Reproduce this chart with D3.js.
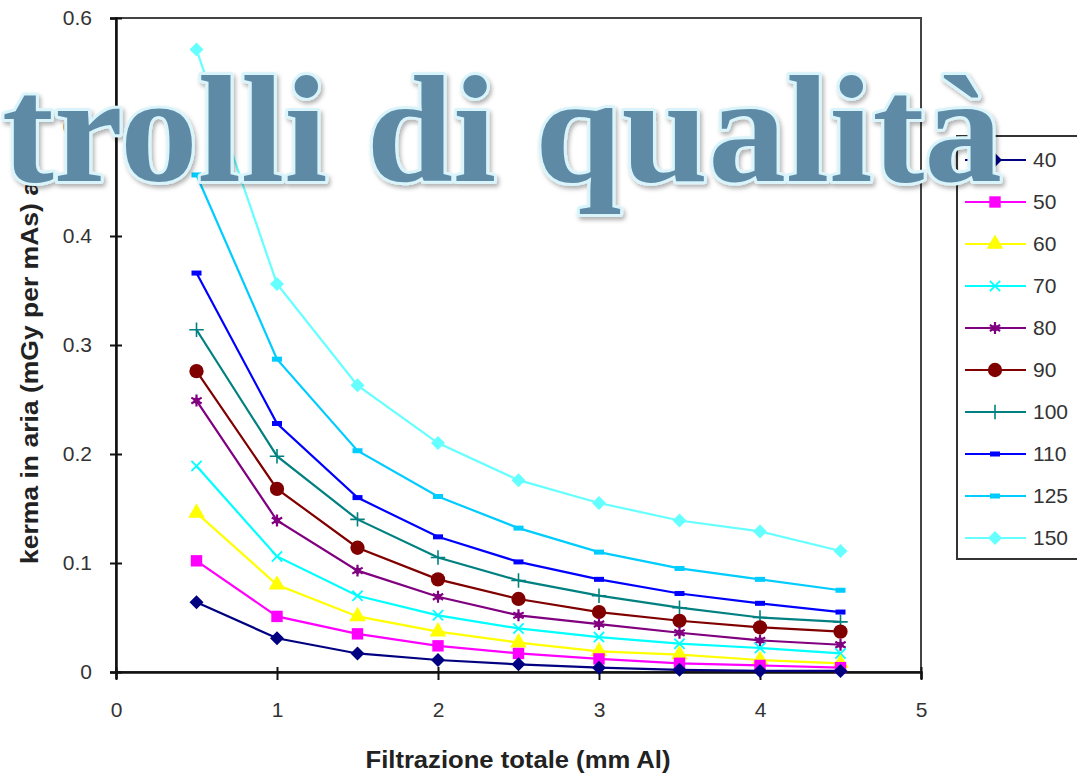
<!DOCTYPE html>
<html>
<head>
<meta charset="utf-8">
<script src="https://cdn.jsdelivr.net/npm/d3@7"></script>
<style>
  html, body { margin: 0; padding: 0; background: #fff; overflow: hidden; }
  svg { display: block; font-family: Arial, "Liberation Sans", sans-serif; }
</style>
</head>
<body>
<svg id="chart" width="1077" height="773"></svg>
<script>
// ---------- data ----------
const filtration = [0.5, 1, 1.5, 2, 2.5, 3, 3.5, 4, 4.5];
const seriesNames = ["40", "50", "60", "70", "80", "90", "100", "110", "125", "150"];
const kv40  = [0.064, 0.031, 0.017, 0.011, 0.007, 0.004, 0.002, 0.001, 0.001];
const kv50  = [0.102, 0.051, 0.035, 0.024, 0.017, 0.012, 0.008, 0.006, 0.004];
const kv60  = [0.146, 0.080, 0.051, 0.037, 0.027, 0.019, 0.016, 0.011, 0.008];
const kv70  = [0.189, 0.106, 0.070, 0.052, 0.040, 0.032, 0.026, 0.022, 0.017];
const kv80  = [0.249, 0.139, 0.093, 0.069, 0.052, 0.044, 0.036, 0.029, 0.025];
const kv90  = [0.276, 0.168, 0.114, 0.085, 0.067, 0.055, 0.047, 0.041, 0.037];
const kv100 = [0.314, 0.198, 0.140, 0.105, 0.084, 0.070, 0.059, 0.050, 0.046];
const kv110 = [0.366, 0.228, 0.160, 0.124, 0.101, 0.085, 0.072, 0.063, 0.055];
const kv125 = [0.456, 0.287, 0.203, 0.161, 0.132, 0.110, 0.095, 0.085, 0.075];
const kv150 = [0.571, 0.356, 0.263, 0.210, 0.176, 0.155, 0.139, 0.129, 0.111];
const seriesValues = [kv40, kv50, kv60, kv70, kv80, kv90, kv100, kv110, kv125, kv150];
const seriesColors = ["#000080", "#ff00ff", "#ffff00", "#00ffff", "#800080", "#800000", "#008080", "#0000ff", "#00ccff", "#66ffff"];
const seriesMarkers = ["diamond", "square", "triangle", "times", "asterisk", "circle", "plus", "dash", "dash", "diamond"];
const xTicks = [0, 1, 2, 3, 4, 5];
const xTickLabels = ["0", "1", "2", "3", "4", "5"];
const yTicks = [0, 0.1, 0.2, 0.3, 0.4, 0.5, 0.6];
const yTickLabels = ["0", "0.1", "0.2", "0.3", "0.4", "0.5", "0.6"];
const xTitle = "Filtrazione totale (mm Al)";
const yTitle = "kerma in aria (mGy per mAs) a 1 m";
const overlayTitle = "trolli di qualità";

// ---------- layout ----------
const svg = d3.select("#chart");
const X0 = 116, X1 = 921, Y0 = 672, Y1 = 18;
const x = d3.scaleLinear().domain([0, 5]).range([X0, X1]);
const y = d3.scaleLinear().domain([0, 0.6]).range([Y0, Y1]);

// plot frame (top/right)
svg.append("rect")
  .attr("x", X0).attr("y", Y1).attr("width", X1 - X0).attr("height", Y0 - Y1)
  .attr("fill", "#fff").attr("stroke", "#444").attr("stroke-width", 2);

// axes
const yAxis = svg.append("g").attr("transform", `translate(${X0},0)`)
  .call(d3.axisLeft(y).tickValues(yTicks).tickFormat((d, i) => yTickLabels[i]).tickSize(6).tickPadding(18));
yAxis.selectAll(".tick line").attr("x1", 6).attr("x2", -6).attr("stroke", "#111").attr("stroke-width", 2);
yAxis.select(".domain").attr("stroke", "#111").attr("stroke-width", 2.5);
yAxis.selectAll("text").attr("font-size", 21).attr("fill", "#333").attr("font-family", "Arial, 'Liberation Sans', sans-serif");

const xAxis = svg.append("g").attr("transform", `translate(0,${Y0})`)
  .call(d3.axisBottom(x).tickValues(xTicks).tickFormat((d, i) => xTickLabels[i]).tickSize(7).tickPadding(23));
xAxis.selectAll(".tick line").attr("y1", -5).attr("y2", 8).attr("stroke", "#111").attr("stroke-width", 2);
xAxis.select(".domain").attr("stroke", "#111").attr("stroke-width", 2.5);
xAxis.selectAll("text").attr("font-size", 21).attr("fill", "#333").attr("font-family", "Arial, 'Liberation Sans', sans-serif");

// axis titles
svg.append("text")
  .attr("x", 518).attr("y", 768).attr("text-anchor", "middle")
  .attr("font-size", 23).attr("font-weight", "bold").attr("fill", "#222")
  .attr("textLength", 305).attr("lengthAdjust", "spacingAndGlyphs")
  .text(xTitle);
svg.append("text")
  .attr("transform", "translate(38,346) rotate(-90)").attr("text-anchor", "middle")
  .attr("font-size", 24).attr("font-weight", "bold").attr("fill", "#222")
  .attr("textLength", 436).attr("lengthAdjust", "spacingAndGlyphs")
  .text(yTitle);

// marker drawing
const diamondPath = "M0,-7L7,0L0,7L-7,0Z";
function drawMarker(g, type, color) {
  if (type === "diamond") {
    g.append("path").attr("d", diamondPath).attr("fill", color);
  } else if (type === "square") {
    g.append("path").attr("d", d3.symbol(d3.symbolSquare, 130)()).attr("fill", color);
  } else if (type === "triangle") {
    g.append("path").attr("d", d3.symbol(d3.symbolTriangle, 120)()).attr("fill", color);
  } else if (type === "times") {
    g.append("path").attr("d", d3.symbol(d3.symbolTimes, 70)()).attr("fill", "none").attr("stroke", color).attr("stroke-width", 1.8);
  } else if (type === "asterisk") {
    g.append("path").attr("d", d3.symbol(d3.symbolAsterisk, 100)()).attr("fill", "none").attr("stroke", color).attr("stroke-width", 2.2);
    g.append("path").attr("d", d3.symbol(d3.symbolCircle, 30)()).attr("fill", color);
  } else if (type === "circle") {
    g.append("path").attr("d", d3.symbol(d3.symbolCircle, 160)()).attr("fill", color);
  } else if (type === "plus") {
    g.append("path").attr("d", d3.symbol(d3.symbolPlus, 70)()).attr("fill", "none").attr("stroke", color).attr("stroke-width", 1.6);
  } else if (type === "dash") {
    g.append("rect").attr("x", -5).attr("y", -2.5).attr("width", 10).attr("height", 5).attr("fill", color);
  }
}

const line = d3.line().x((d, i) => x(filtration[i])).y(d => y(d));

// series (draw from highest to lowest so low series are on top like the reference)
const plot = svg.append("g");
for (let s = seriesNames.length - 1; s >= 0; s--) {
  const vals = seriesValues[s];
  const g = plot.append("g");
  g.append("path").attr("d", line(vals)).attr("fill", "none")
    .attr("stroke", seriesColors[s]).attr("stroke-width", 2.2);
  g.selectAll("g.m").data(vals).join("g").attr("class", "m")
    .attr("transform", (d, i) => `translate(${x(filtration[i])},${y(d)})`)
    .each(function () { drawMarker(d3.select(this), seriesMarkers[s], seriesColors[s]); });
}

// legend
const legend = svg.append("g");
legend.append("rect").attr("x", 957).attr("y", 136).attr("width", 140).attr("height", 423)
  .attr("fill", "#fff").attr("stroke", "#333").attr("stroke-width", 2);
const legendY = d3.scaleLinear().domain([0, seriesNames.length - 1]).range([160, 538]);
seriesNames.forEach((name, i) => {
  const gy = legendY(i);
  const item = legend.append("g").attr("transform", `translate(0,${gy})`);
  item.append("line").attr("x1", 965).attr("x2", 1026).attr("y1", 0).attr("y2", 0)
    .attr("stroke", seriesColors[i]).attr("stroke-width", 2.2);
  drawMarker(item.append("g").attr("transform", "translate(995,0)"), seriesMarkers[i], seriesColors[i]);
  item.append("text").attr("x", 1033).attr("y", 0).attr("dy", "0.35em")
    .attr("font-size", 21).attr("fill", "#333").text(name);
});

// overlay title
const defs = svg.append("defs");
const f = defs.append("filter").attr("id", "shadow").attr("x", "-5%").attr("y", "-20%").attr("width", "110%").attr("height", "140%");
f.append("feDropShadow").attr("dx", 2).attr("dy", 3).attr("stdDeviation", 2).attr("flood-color", "#000").attr("flood-opacity", 0.3);

svg.append("text")
  .attr("x", 2).attr("y", 181)
  .attr("font-family", "'Liberation Serif', 'DejaVu Serif', serif")
  .attr("font-weight", "bold").attr("font-size", 152)
  .attr("fill", "#5e8aa6").attr("stroke", "#d9f5fb").attr("stroke-width", 6)
  .attr("paint-order", "stroke").attr("stroke-linejoin", "round")
  .attr("textLength", 1000).attr("lengthAdjust", "spacingAndGlyphs")
  .attr("filter", "url(#shadow)")
  .text(overlayTitle);
</script>
</body>
</html>
